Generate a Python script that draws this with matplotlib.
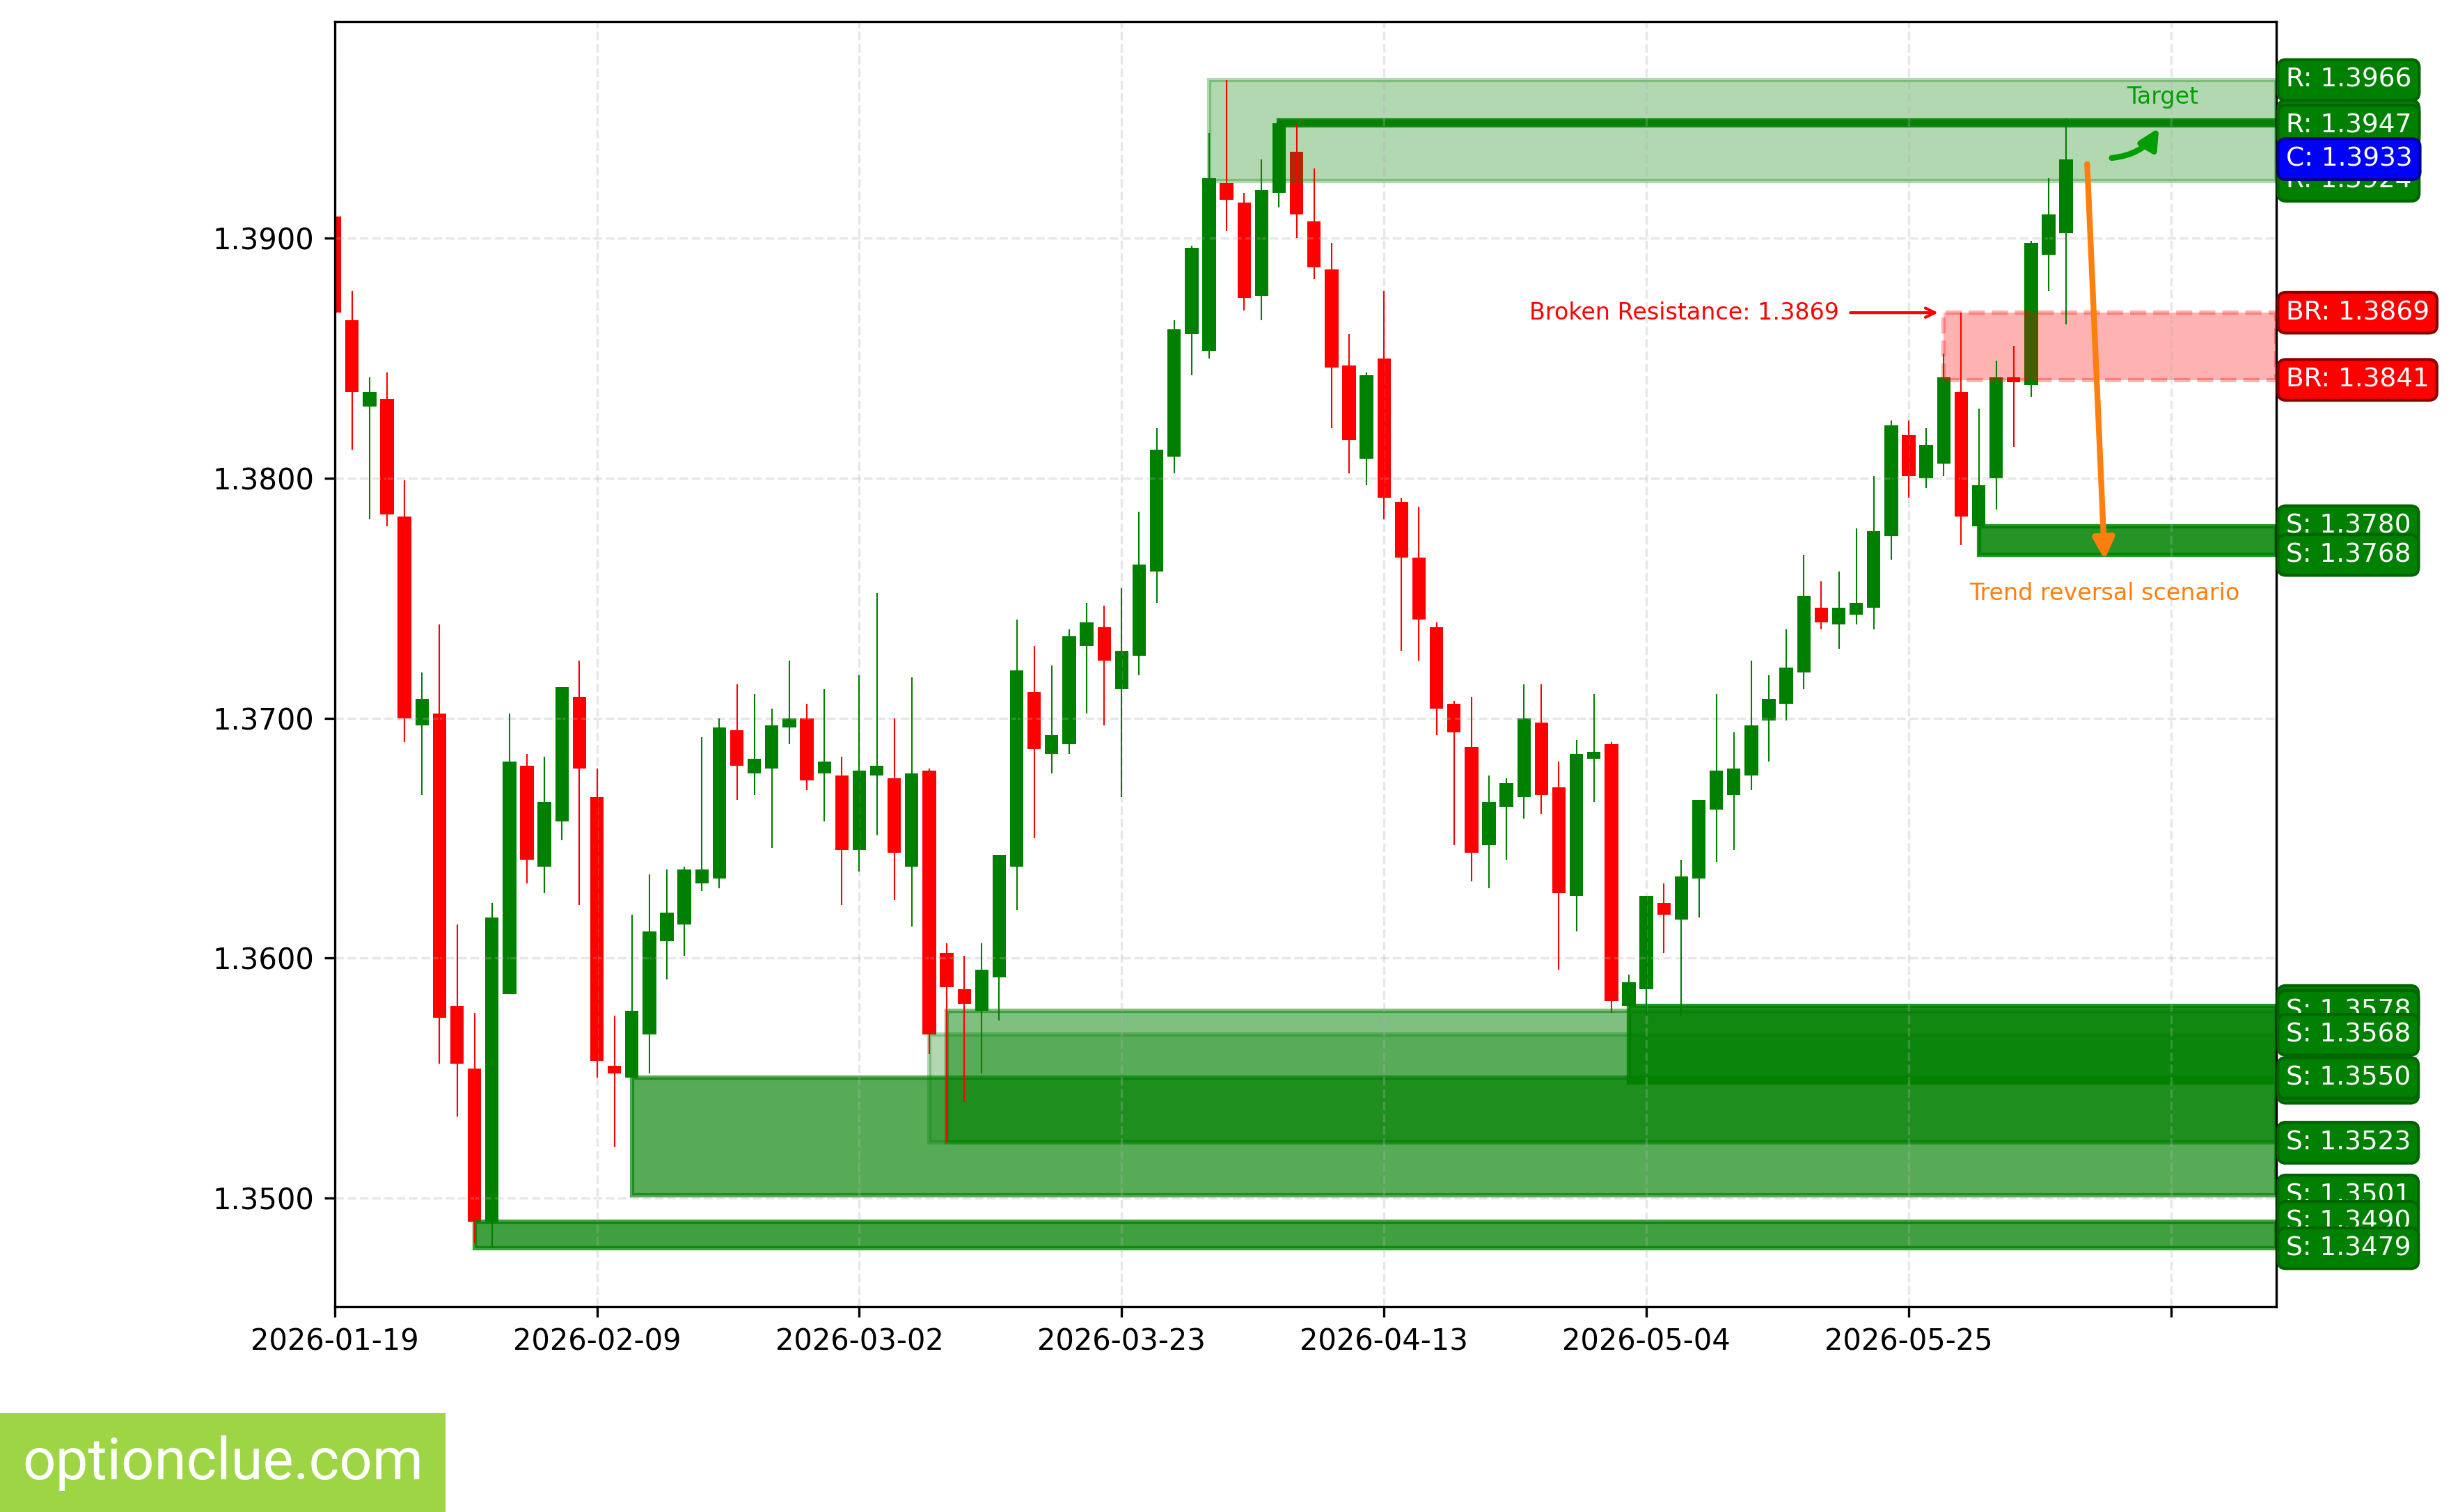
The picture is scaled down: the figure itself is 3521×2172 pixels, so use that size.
import pandas as pd
import matplotlib
matplotlib.use('Agg')
import matplotlib.pyplot as plt
import matplotlib.transforms as mtransforms
from matplotlib.patches import Rectangle
from matplotlib.ticker import FuncFormatter, FormatStrFormatter

# daily candles (index 0 = 2026-01-19, business days)
opens = [1.3909, 1.3866, 1.3830, 1.3833, 1.3784, 1.3697, 1.3702, 1.3580, 1.3554, 1.3490,
         1.3585, 1.3680, 1.3638, 1.3657, 1.3709, 1.3667, 1.3555, 1.3550, 1.3568, 1.3607,
         1.3614, 1.3631, 1.3633, 1.3695, 1.3677, 1.3679, 1.3696, 1.3700, 1.3677, 1.3676,
         1.3645, 1.3676, 1.3675, 1.3638, 1.3678, 1.3602, 1.3587, 1.3578, 1.3592, 1.3638,
         1.3711, 1.3685, 1.3689, 1.3730, 1.3738, 1.3712, 1.3726, 1.3761, 1.3809, 1.3860,
         1.3853, 1.3923, 1.3915, 1.3876, 1.3919, 1.3936, 1.3907, 1.3887, 1.3847, 1.3808,
         1.3850, 1.3790, 1.3767, 1.3738, 1.3706, 1.3688, 1.3647, 1.3663, 1.3667, 1.3698,
         1.3671, 1.3626, 1.3683, 1.3689, 1.3580, 1.3587, 1.3623, 1.3616, 1.3633, 1.3662,
         1.3668, 1.3676, 1.3699, 1.3706, 1.3719, 1.3746, 1.3739, 1.3743, 1.3746, 1.3776,
         1.3818, 1.3800, 1.3806, 1.3836, 1.3780, 1.3800, 1.3842, 1.3839, 1.3893, 1.3902]
highs = [1.3910, 1.3878, 1.3842, 1.3844, 1.3799, 1.3719, 1.3739, 1.3614, 1.3577, 1.3623,
         1.3702, 1.3685, 1.3684, 1.3713, 1.3724, 1.3679, 1.3576, 1.3618, 1.3635, 1.3637,
         1.3638, 1.3692, 1.3700, 1.3714, 1.3710, 1.3704, 1.3724, 1.3706, 1.3712, 1.3684,
         1.3718, 1.3752, 1.3700, 1.3717, 1.3679, 1.3606, 1.3601, 1.3606, 1.3643, 1.3741,
         1.3730, 1.3722, 1.3737, 1.3748, 1.3747, 1.3754, 1.3786, 1.3821, 1.3866, 1.3897,
         1.3944, 1.3966, 1.3919, 1.3933, 1.3949, 1.3948, 1.3929, 1.3898, 1.3860, 1.3844,
         1.3878, 1.3792, 1.3788, 1.3740, 1.3707, 1.3709, 1.3676, 1.3675, 1.3714, 1.3714,
         1.3682, 1.3691, 1.3710, 1.3690, 1.3593, 1.3626, 1.3631, 1.3641, 1.3666, 1.3710,
         1.3694, 1.3724, 1.3718, 1.3737, 1.3768, 1.3757, 1.3761, 1.3779, 1.3801, 1.3824,
         1.3824, 1.3821, 1.3852, 1.3869, 1.3829, 1.3849, 1.3855, 1.3899, 1.3925, 1.3950]
lows = [1.3868, 1.3812, 1.3783, 1.3780, 1.3690, 1.3668, 1.3556, 1.3534, 1.3481, 1.3479,
        1.3585, 1.3631, 1.3627, 1.3649, 1.3622, 1.3550, 1.3521, 1.3550, 1.3552, 1.3591,
        1.3601, 1.3628, 1.3629, 1.3666, 1.3668, 1.3646, 1.3689, 1.3670, 1.3657, 1.3622,
        1.3636, 1.3651, 1.3624, 1.3613, 1.3560, 1.3523, 1.3540, 1.3552, 1.3574, 1.3620,
        1.3650, 1.3677, 1.3685, 1.3702, 1.3697, 1.3667, 1.3718, 1.3748, 1.3802, 1.3843,
        1.3850, 1.3903, 1.3870, 1.3866, 1.3913, 1.3900, 1.3883, 1.3821, 1.3802, 1.3797,
        1.3783, 1.3728, 1.3724, 1.3693, 1.3647, 1.3632, 1.3629, 1.3641, 1.3658, 1.3660,
        1.3595, 1.3611, 1.3665, 1.3577, 1.3580, 1.3576, 1.3602, 1.3576, 1.3617, 1.3640,
        1.3645, 1.3670, 1.3682, 1.3699, 1.3712, 1.3737, 1.3729, 1.3739, 1.3737, 1.3766,
        1.3792, 1.3796, 1.3801, 1.3772, 1.3768, 1.3787, 1.3813, 1.3834, 1.3878, 1.3864]
closes = [1.3869, 1.3836, 1.3836, 1.3785, 1.3700, 1.3708, 1.3575, 1.3556, 1.3490, 1.3617,
          1.3682, 1.3641, 1.3665, 1.3713, 1.3679, 1.3557, 1.3552, 1.3578, 1.3611, 1.3619,
          1.3637, 1.3637, 1.3696, 1.3680, 1.3683, 1.3697, 1.3700, 1.3674, 1.3682, 1.3645,
          1.3678, 1.3680, 1.3644, 1.3677, 1.3568, 1.3588, 1.3581, 1.3595, 1.3643, 1.3720,
          1.3687, 1.3693, 1.3734, 1.3740, 1.3724, 1.3728, 1.3764, 1.3812, 1.3862, 1.3896,
          1.3925, 1.3916, 1.3875, 1.3920, 1.3948, 1.3910, 1.3888, 1.3846, 1.3816, 1.3843,
          1.3792, 1.3767, 1.3741, 1.3704, 1.3694, 1.3644, 1.3665, 1.3673, 1.3700, 1.3668,
          1.3627, 1.3685, 1.3686, 1.3582, 1.3590, 1.3626, 1.3618, 1.3634, 1.3666, 1.3678,
          1.3679, 1.3697, 1.3708, 1.3721, 1.3751, 1.3740, 1.3746, 1.3748, 1.3778, 1.3822,
          1.3801, 1.3814, 1.3842, 1.3784, 1.3797, 1.3842, 1.3840, 1.3898, 1.3910, 1.3933]
dates = pd.bdate_range('2026-01-19', periods=len(opens))

# zones: (first candle, low, high)
res_zones = [(50, 1.3924, 1.3966), (54, 1.3947, 1.3949)]
res_alpha = [0.3, 0.9]
broken_zone = (92, 1.3841, 1.3869)
sup_zones = [(94, 1.3768, 1.3780), (74, 1.3548, 1.3580), (35, 1.3523, 1.3578),
             (34, 1.3523, 1.3568), (17, 1.3501, 1.3550), (8, 1.3479, 1.3490)]
sup_alpha = [0.85, 0.86, 0.5, 0.3, 0.66, 0.75]
current = closes[-1]

n = len(opens)
x_right = n + 11

fig = plt.figure(figsize=(11.737, 7.2402), dpi=300)
ax = fig.add_axes([0.1365, 0.1358, 0.7921, 0.8499])

# candles
w = 0.77
for i in range(n):
    o, h, l, c = opens[i], highs[i], lows[i], closes[i]
    col = 'green' if c >= o else 'red'
    ax.vlines(i, l, h, color=col, lw=0.5)
    ax.add_patch(Rectangle((i - w / 2, min(o, c)), w, max(abs(c - o), 0.00004),
                           facecolor=col, edgecolor='none'))

# zones
for (s, lo, hi), a in zip(res_zones, res_alpha):
    ax.add_patch(Rectangle((s, lo), x_right - s, hi - lo, facecolor='green',
                           edgecolor='green', alpha=a, lw=1.5))
s, lo, hi = broken_zone
ax.add_patch(Rectangle((s, lo), x_right - s, hi - lo, facecolor='red', alpha=0.3,
                       edgecolor='red', lw=1.5, linestyle='--'))
for (s, lo, hi), a in zip(sup_zones, sup_alpha):
    ax.add_patch(Rectangle((s, lo), x_right - s, hi - lo, facecolor='green',
                           edgecolor='green', alpha=a, lw=1.5))

# price tags on the right
trans = mtransforms.blended_transform_factory(ax.transAxes, ax.transData)


def tag(y, txt, fc, ec):
    ax.text(1.005, y, txt, transform=trans, ha='left', va='center', fontsize=9,
            color='white', bbox=dict(boxstyle='round,pad=0.3', fc=fc, ec=ec, lw=1))


for s, lo, hi in res_zones:
    tag(hi, f'R: {hi:.4f}', 'green', 'darkgreen')
    tag(lo, f'R: {lo:.4f}', 'green', 'darkgreen')
tag(broken_zone[2], f'BR: {broken_zone[2]:.4f}', 'red', 'darkred')
tag(broken_zone[1], f'BR: {broken_zone[1]:.4f}', 'red', 'darkred')
for s, lo, hi in sup_zones:
    tag(hi, f'S: {hi:.4f}', 'green', 'darkgreen')
    tag(lo, f'S: {lo:.4f}', 'green', 'darkgreen')
tag(current, f'C: {current:.4f}', 'blue', 'darkblue')

# annotations
ax.annotate(f'Broken Resistance: {broken_zone[2]:.4f}', xy=(broken_zone[0], broken_zone[2]),
            xytext=(86, broken_zone[2]), ha='right', va='center', fontsize=8, color='red',
            arrowprops=dict(arrowstyle='->', color='red', lw=1))
ax.annotate('', xy=(101.2, 1.3766), xytext=(100.2, 1.3931),
            arrowprops=dict(arrowstyle='-|>', color='#ff7f0e', lw=2, mutation_scale=15,
                            shrinkA=0, shrinkB=0))
ax.text(101.2, 1.3752, 'Trend reversal scenario', color='#ff7f0e', fontsize=8,
        ha='center', va='center')
ax.annotate('', xy=(104.3, 1.3946), xytext=(101.6, 1.39335),
            arrowprops=dict(arrowstyle='-|>', color='#009e00', lw=2, mutation_scale=14,
                            shrinkA=0, shrinkB=0, connectionstyle='arc3,rad=0.25'))
ax.text(104.5, 1.3959, 'Target', color='#009e00', fontsize=8, ha='center', va='center')

# axes
lo_all, hi_all = sup_zones[-1][1], res_zones[0][2]
pad = (hi_all - lo_all) * 0.05
ax.set_ylim(lo_all - pad, hi_all + pad)
ax.set_xlim(0, x_right)
ax.set_xticks(range(0, x_right, 15))
ax.xaxis.set_major_formatter(FuncFormatter(
    lambda v, p: dates[int(v)].strftime('%Y-%m-%d') if 0 <= int(v) < n else ''))
ax.set_yticks([1.35, 1.36, 1.37, 1.38, 1.39])
ax.yaxis.set_major_formatter(FormatStrFormatter('%.4f'))
ax.grid(True, linestyle='--', alpha=0.3)

# watermark
fig.patches.append(Rectangle((0, 0), 640 / 3521, 142 / 2172, transform=fig.transFigure,
                             facecolor='#9ed544', edgecolor='none'))
fig.text(320 / 3521, 70 / 2172, 'optionclue.com', fontsize=20, family='Roboto',
         color='white', ha='center', va='center')

fig.savefig('out.png', dpi=300)
